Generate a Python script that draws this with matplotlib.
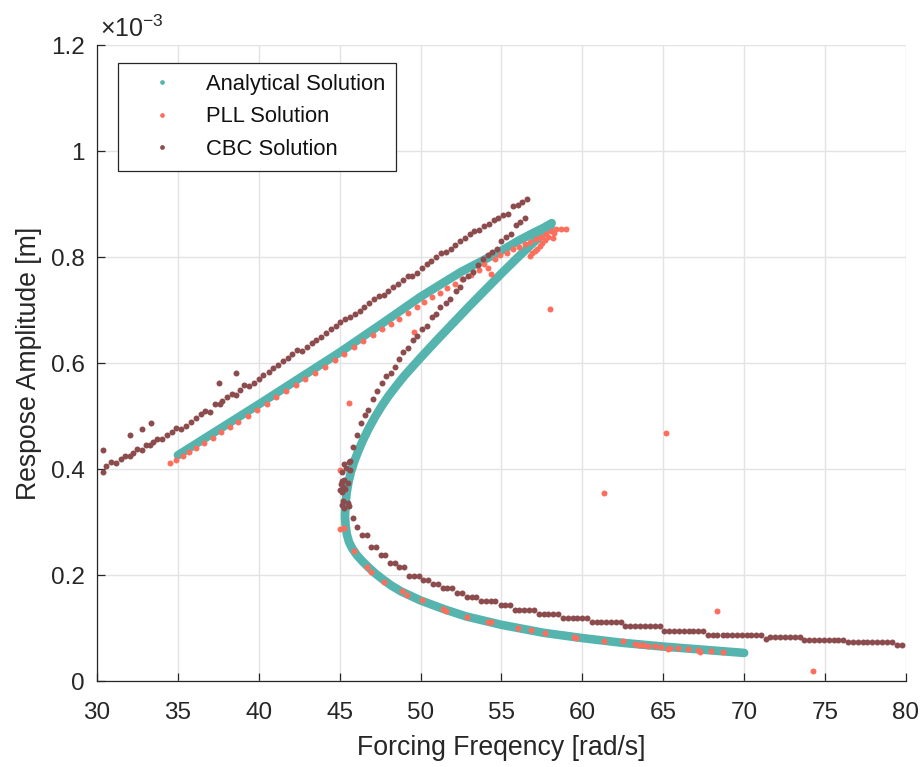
import matplotlib
matplotlib.use("Agg")
import matplotlib.pyplot as plt
from matplotlib.lines import Line2D
from matplotlib.ticker import FuncFormatter

plt.rcParams['font.family'] = ['Liberation Sans', 'DejaVu Sans']
plt.rcParams['mathtext.fontset'] = 'custom'
plt.rcParams['mathtext.rm'] = 'Liberation Sans'

# ---- data (amplitudes in units of 1e-3 m) ----
ana_freq = [35.0, 37.5, 40.0, 42.5, 45.0, 47.5, 50.0, 52.5, 53.7, 55.0, 56.0, 57.0, 57.6, 58.0, 58.1,
            58.0, 57.0, 56.0, 55.0, 54.0, 53.0, 52.0, 51.0, 50.0, 49.5, 49.0, 48.5, 48.0, 47.6, 47.2,
            46.8, 46.45, 46.15, 45.9, 45.7, 45.55, 45.43, 45.36, 45.33, 45.37, 45.45, 45.58, 45.78,
            46.05, 46.4, 46.8, 47.2, 47.7, 48.2, 48.8, 50.0, 51.5, 52.8, 55.0, 57.6, 60.0, 62.5,
            65.0, 67.5, 70.0]
ana_amp = [0.426, 0.474, 0.522, 0.571, 0.620, 0.672, 0.725, 0.772, 0.791, 0.812, 0.830, 0.846, 0.855, 0.862, 0.864,
           0.857, 0.828, 0.799, 0.769, 0.738, 0.707, 0.675, 0.643, 0.610, 0.593, 0.576, 0.557, 0.537, 0.519, 0.499,
           0.477, 0.455, 0.434, 0.414, 0.395, 0.376, 0.355, 0.333, 0.310, 0.292, 0.276, 0.262, 0.250,
           0.238, 0.226, 0.214, 0.203, 0.191, 0.180, 0.169, 0.152, 0.135, 0.122, 0.106, 0.091, 0.081, 0.072,
           0.065, 0.059, 0.053]

pll_freq = [34.51, 34.88, 35.29, 35.70, 36.15, 36.64, 37.14, 37.65, 38.21, 38.74, 39.32, 39.90, 40.48,
            41.07, 41.67, 42.28, 42.88, 43.49, 44.09, 44.69, 45.28, 45.88, 46.46, 47.04, 47.59, 48.15,
            48.68, 49.20, 49.75, 50.20, 50.72, 51.19, 51.64, 52.12, 52.59, 53.09, 53.62, 53.90, 54.57,
            54.90, 55.31, 55.72, 56.09, 56.44, 56.79, 57.12, 57.47, 57.78, 58.09, 58.40, 58.70, 59.01,
            54.17, 54.38, 56.75, 56.91, 57.06, 57.22, 57.36, 57.53, 57.67, 57.88, 58.19, 58.23,
            57.98, 65.15, 61.33, 68.31, 74.26, 45.59, 49.62,
            45.02, 45.02, 45.27, 45.88,
            46.70, 46.93, 47.73, 48.83, 49.17, 50.06, 51.40, 51.60, 52.84, 54.17, 54.38, 55.99, 56.83,
            57.67, 59.48, 59.63, 61.32, 62.51, 63.27, 63.50, 63.74, 64.05, 64.48, 64.88, 65.28, 65.39,
            65.93, 66.52, 67.16, 67.24, 67.92, 68.72]
pll_amp = [0.411, 0.417, 0.424, 0.432, 0.440, 0.450, 0.458, 0.469, 0.479, 0.489, 0.500, 0.512, 0.523,
           0.535, 0.547, 0.558, 0.570, 0.581, 0.593, 0.605, 0.617, 0.630, 0.641, 0.652, 0.664, 0.674,
           0.684, 0.694, 0.705, 0.716, 0.724, 0.733, 0.741, 0.750, 0.758, 0.767, 0.775, 0.787, 0.797,
           0.803, 0.808, 0.815, 0.819, 0.825, 0.829, 0.834, 0.838, 0.843, 0.850, 0.853, 0.853, 0.853,
           0.779, 0.768, 0.802, 0.807, 0.811, 0.816, 0.821, 0.827, 0.832, 0.838, 0.836, 0.846,
           0.702, 0.468, 0.355, 0.133, 0.0195, 0.524, 0.658,
           0.399, 0.286, 0.288, 0.245,
           0.216, 0.206, 0.187, 0.169, 0.162, 0.152, 0.136, 0.133, 0.121, 0.111, 0.111, 0.100, 0.0956,
           0.0906, 0.083, 0.0817, 0.0755, 0.0755, 0.070, 0.0686, 0.0673, 0.0667, 0.066, 0.064, 0.061, 0.063,
           0.0616, 0.060, 0.0585, 0.054, 0.0566, 0.0553]

cbc_freq = [30.35, 30.56, 30.35, 30.86, 31.17, 31.46, 31.75, 32.04, 32.06, 32.20, 32.49, 32.78, 32.80,
            33.00, 33.29, 33.31, 33.46, 33.74, 34.03, 34.32, 34.63, 34.91, 35.22, 35.51, 35.82, 36.11,
            36.42, 36.70, 36.99, 37.28, 37.57, 37.61, 37.75, 38.02, 38.33, 38.62, 38.62, 38.83, 39.11,
            39.40, 39.71, 40.00, 40.28, 40.62, 40.90, 41.19, 41.50, 41.79, 42.07, 42.38, 42.67, 42.96,
            43.27, 43.56, 43.85, 44.15, 44.44, 44.75, 45.04, 45.35, 45.64, 45.93, 46.23, 46.52, 46.81,
            47.12, 47.41, 47.72, 48.00, 48.29, 48.60, 48.89, 49.20, 49.48, 49.77, 50.06, 50.37, 50.65,
            50.96, 51.25, 51.54, 51.85, 52.14, 52.44, 52.73, 53.04, 53.33, 53.62, 53.91, 54.22, 54.51,
            54.81, 55.10, 55.39, 55.70, 55.99, 56.27, 56.58,
            56.48, 56.17, 55.88, 55.57, 55.27, 54.98, 54.71, 54.42, 54.14, 53.83, 53.54, 53.25, 52.94,
            52.65, 52.43, 52.16, 51.81, 51.54, 51.23, 50.94, 50.68, 50.37, 50.06, 49.79, 49.54, 49.23,
            48.93, 48.66, 48.41, 48.15, 47.86, 47.59, 47.32, 47.04, 46.77, 46.56, 46.30, 46.05, 45.80,
            45.64,
            45.57, 45.27, 45.37, 45.64, 45.16, 45.12, 45.27, 45.49, 45.06, 45.22, 45.02, 45.12, 45.33,
            45.18, 45.49, 45.57, 45.12, 45.27,
            45.82, 46.09, 46.40, 46.67, 46.93, 47.22, 47.53, 47.80, 48.11, 48.40, 48.68, 48.97, 49.28,
            49.57, 49.88, 50.16, 50.47, 50.76, 51.07, 51.36, 51.64, 51.95, 52.24, 52.55, 52.84, 53.15,
            53.43, 53.74, 54.03, 54.34, 54.63, 54.94, 55.22, 55.51, 55.82, 56.11, 56.42, 56.70, 57.01,
            57.30, 57.61, 57.90, 58.21, 58.49, 58.80, 59.09, 59.40, 59.69, 59.97, 60.28, 60.59, 60.88,
            61.17, 61.48, 61.79, 62.10, 62.37, 62.65, 62.94, 63.25, 63.54, 63.85, 64.15, 64.46, 64.77,
            65.06, 65.35, 65.66, 65.96, 66.25, 66.56, 66.85, 67.16, 67.45, 67.76, 68.06, 68.35, 68.66,
            68.95, 69.26, 69.55, 69.85, 70.16, 70.45, 70.74, 71.05, 71.36, 71.62, 71.93, 72.22, 72.53,
            72.82, 73.13, 73.43, 73.72, 74.03, 74.32, 74.63, 74.92, 75.22, 75.53, 75.82, 76.13, 76.42,
            76.73, 77.01, 77.32, 77.61, 77.92, 78.21, 78.52, 78.80, 79.11, 79.42, 79.73]
cbc_amp = [0.395, 0.406, 0.436, 0.413, 0.412, 0.419, 0.425, 0.424, 0.465, 0.430, 0.437, 0.436, 0.475,
           0.446, 0.445, 0.486, 0.451, 0.457, 0.456, 0.464, 0.470, 0.477, 0.475, 0.482, 0.489, 0.496,
           0.503, 0.510, 0.508, 0.523, 0.562, 0.523, 0.528, 0.535, 0.541, 0.540, 0.581, 0.550, 0.558,
           0.557, 0.563, 0.570, 0.577, 0.583, 0.590, 0.597, 0.604, 0.610, 0.617, 0.624, 0.623, 0.630,
           0.637, 0.643, 0.650, 0.657, 0.664, 0.670, 0.677, 0.684, 0.686, 0.693, 0.699, 0.706, 0.713,
           0.720, 0.727, 0.729, 0.736, 0.743, 0.750, 0.757, 0.764, 0.765, 0.770, 0.779, 0.786, 0.793,
           0.800, 0.808, 0.809, 0.816, 0.823, 0.830, 0.836, 0.843, 0.850, 0.851, 0.858, 0.862, 0.870,
           0.873, 0.879, 0.882, 0.896, 0.898, 0.904, 0.909,
           0.873, 0.867, 0.860, 0.844, 0.838, 0.830, 0.816, 0.809, 0.804, 0.797, 0.785, 0.772, 0.764,
           0.758, 0.743, 0.736, 0.721, 0.713, 0.706, 0.692, 0.686, 0.670, 0.664, 0.651, 0.643, 0.629,
           0.621, 0.608, 0.593, 0.582, 0.575, 0.562, 0.547, 0.532, 0.511, 0.502, 0.486, 0.464, 0.442,
           0.415,
           0.414, 0.409, 0.401, 0.399, 0.394, 0.378, 0.379, 0.374, 0.371, 0.367, 0.360, 0.357, 0.362,
           0.340, 0.335, 0.331, 0.332, 0.326,
           0.307, 0.291, 0.276, 0.276, 0.253, 0.253, 0.238, 0.238, 0.222, 0.222, 0.2145, 0.2145, 0.1987,
           0.1987, 0.1987, 0.1906, 0.1906, 0.183, 0.183, 0.175, 0.175, 0.175, 0.1667, 0.1667, 0.1585, 0.1585,
           0.1585, 0.151, 0.151, 0.151, 0.151, 0.1428, 0.1428, 0.1428, 0.1346, 0.1346, 0.1346, 0.1346, 0.1346,
           0.127, 0.127, 0.127, 0.127, 0.127, 0.119, 0.119, 0.119, 0.119, 0.119, 0.119, 0.111, 0.111,
           0.1107, 0.1107, 0.1107, 0.1107, 0.1107, 0.1031, 0.1031, 0.1031, 0.1031, 0.1031, 0.1031, 0.1031, 0.1031,
           0.0949, 0.0949, 0.0949, 0.0949, 0.0949, 0.0949, 0.0949, 0.0949, 0.0949, 0.0874, 0.0874, 0.0874,
           0.0874, 0.0874, 0.0874, 0.0874, 0.0874, 0.0874, 0.0874, 0.0874, 0.0874, 0.0792, 0.0824, 0.0824, 0.0824,
           0.0824, 0.0824, 0.0824, 0.0824, 0.0780, 0.0780, 0.0780, 0.0780, 0.0780, 0.0780, 0.0780, 0.0780, 0.0780,
           0.0730, 0.0730, 0.0730, 0.0730, 0.0730, 0.0730, 0.0730, 0.0730, 0.0730, 0.0730, 0.0686, 0.0686]

x_ticks = [30, 35, 40, 45, 50, 55, 60, 65, 70, 75, 80]
y_ticks = [0, 0.2, 0.4, 0.6, 0.8, 1.0, 1.2]

c_ana = '#55b4ad'
c_pll = '#fe6e5c'
c_cbc = '#8c4b4c'

fig = plt.figure(figsize=(9.21, 7.67), dpi=100)
ax = fig.add_axes([0.1053, 0.1121, 0.8784, 0.8292])

ax.plot(ana_freq, ana_amp, color=c_ana, lw=6.2, solid_capstyle='round',
        solid_joinstyle='round', zorder=3)
ax.plot(pll_freq, pll_amp, ls='none', marker='o', ms=4.3, mew=0, color=c_pll, zorder=4)
ax.plot(cbc_freq, cbc_amp, ls='none', marker='o', ms=4.3, mew=0, color=c_cbc, zorder=5)

ax.set_xlim(30, 80)
ax.set_ylim(0, 1.2)
ax.set_xticks(x_ticks)
ax.set_yticks(y_ticks)
ax.yaxis.set_major_formatter(FuncFormatter(lambda v, p: '%g' % v))

ax.grid(True, color='#e3e3e3', lw=1.0, zorder=0)
ax.set_axisbelow(True)
for s in ['top', 'right']:
    ax.spines[s].set_visible(False)
for s in ['left', 'bottom']:
    ax.spines[s].set_color('#262626')
    ax.spines[s].set_linewidth(0.9)
ax.tick_params(direction='in', length=6, width=0.9, colors='#262626',
               labelsize=17.5, labelcolor='#262626')
ax.tick_params(axis='x', pad=15)
ax.tick_params(axis='y', pad=9)

ax.set_xlabel('Forcing Freqency [rad/s]', fontsize=19.2, color='#262626', labelpad=8)
ax.set_ylabel('Respose Amplitude [m]', fontsize=19.2, color='#262626', labelpad=6)

ax.text(0.004, 1.005, r'$\mathregular{\times10^{-3}}$', transform=ax.transAxes,
        ha='left', va='bottom', fontsize=18, color='#262626')

handles = [Line2D([], [], ls='none', marker='o', ms=3.4, mew=0, color=c_ana),
           Line2D([], [], ls='none', marker='o', ms=3.4, mew=0, color=c_pll),
           Line2D([], [], ls='none', marker='o', ms=3.4, mew=0, color=c_cbc)]
leg = ax.legend(handles, ['Analytical Solution', 'PLL Solution', 'CBC Solution'],
                loc='upper left', bbox_to_anchor=(0.026, 0.972), borderaxespad=0,
                fontsize=15.8, frameon=True, fancybox=False, framealpha=1,
                edgecolor='#262626', handlelength=3.0, handletextpad=0.5,
                borderpad=0.5, labelspacing=0.52)
leg.get_frame().set_linewidth(0.9)
for t in leg.get_texts():
    t.set_color('#111111')

fig.savefig('out.png', dpi=100)
